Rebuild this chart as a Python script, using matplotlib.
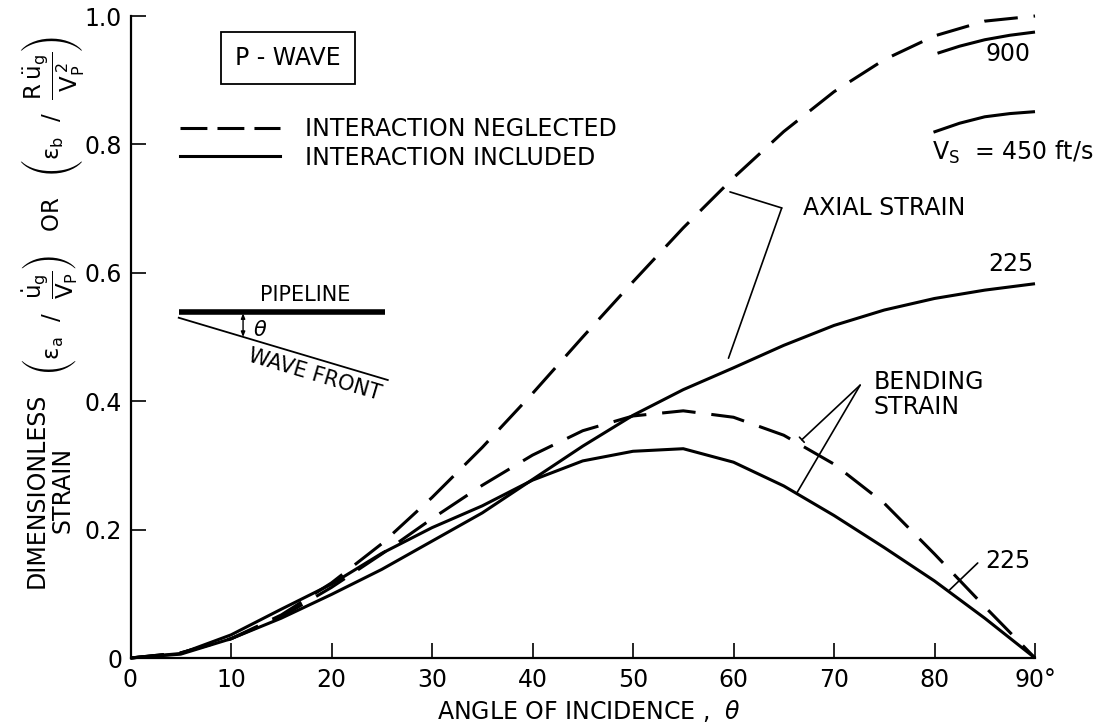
import matplotlib
matplotlib.use("Agg")
import matplotlib.pyplot as plt
from matplotlib.lines import Line2D

plt.rcParams['font.family'] = ['DejaVu Sans']
plt.rcParams['mathtext.default'] = 'regular'

# ---------------- data ----------------
theta = [0, 5, 10, 15, 20, 25, 30, 35, 40, 45, 50, 55, 60, 65, 70, 75, 80, 85, 90]
axial_neglected = [0, 0.008, 0.03, 0.067, 0.117, 0.178, 0.25, 0.328, 0.412, 0.5,
                   0.586, 0.67, 0.748, 0.82, 0.882, 0.932, 0.969, 0.992, 1.0]
bending_neglected = [0, 0.008, 0.03, 0.064, 0.11, 0.162, 0.217, 0.269, 0.316, 0.354,
                     0.377, 0.385, 0.375, 0.347, 0.302, 0.241, 0.162, 0.08, 0]
axial_included_225 = [0, 0.006, 0.03, 0.062, 0.099, 0.138, 0.182, 0.226, 0.278, 0.33,
                      0.378, 0.418, 0.452, 0.487, 0.518, 0.542, 0.56, 0.573, 0.583]
bending_included_225 = [0, 0.007, 0.036, 0.076, 0.115, 0.163, 0.203, 0.237, 0.277, 0.307,
                        0.322, 0.326, 0.305, 0.268, 0.222, 0.172, 0.12, 0.062, 0]
theta_900 = [80.3, 82.5, 85, 87.5, 90]
axial_included_900 = [0.942, 0.953, 0.963, 0.970, 0.975]
theta_450 = [79.9, 82.5, 85, 87.5, 90]
axial_included_450 = [0.819, 0.833, 0.843, 0.848, 0.851]

xticks = [0, 10, 20, 30, 40, 50, 60, 70, 80, 90]
xtick_labels = ['0', '10', '20', '30', '40', '50', '60', '70', '80', '90°']
yticks = [0, 0.2, 0.4, 0.6, 0.8, 1.0]
ytick_labels = ['0', '0.2', '0.4', '0.6', '0.8', '1.0']

# ---------------- figure ----------------
W, H = 1099, 728
fig = plt.figure(figsize=(W / 100, H / 100), dpi=100)
ax = fig.add_axes([130.5 / W, 70 / H, 904.5 / W, 642 / H])
ax.set_xlim(0, 90)
ax.set_ylim(0, 1.0)

FS = 17
LW = 2.2
DASH = (11, 5.2)

common = dict(color='black', lw=LW, clip_on=False, solid_capstyle='butt')
ax.plot(theta, axial_neglected, dashes=DASH, **common)
ax.plot(theta, bending_neglected, dashes=DASH, **common)
ax.plot(theta, axial_included_225, **common)
ax.plot(theta, bending_included_225, **common)
ax.plot(theta_900, axial_included_900, **common)
ax.plot(theta_450, axial_included_450, **common)

# axes styling
for s in ['top', 'right']:
    ax.spines[s].set_visible(False)
for s in ['left', 'bottom']:
    ax.spines[s].set_linewidth(1.6)
ax.set_xticks(xticks)
ax.set_xticklabels(xtick_labels)
ax.set_yticks(yticks)
ax.set_yticklabels(ytick_labels)
ax.tick_params(direction='in', length=11, width=1.2, labelsize=FS)
ax.tick_params(axis='x', pad=7)
ax.tick_params(axis='y', pad=6)

fig.text(589 / W, 1 - 711 / H, r'ANGLE OF INCIDENCE ,  $\it{\theta}$', fontsize=FS,
         ha='center', va='center')

# y label (two parts)
fig.text(50 / W, 1 - 490 / H, 'DIMENSIONLESS\nSTRAIN', rotation=90, fontsize=FS,
         ha='center', va='center', multialignment='center', linespacing=1.1)
fig.text(52 / W, 1 - 206 / H,
         r'$\left(\epsilon_a\ \ /\ \ \dfrac{\dot{u}_g}{V_P}\right)$   OR   '
         r'$\left(\epsilon_b\ \ /\ \ \dfrac{R\,\ddot{u}_g}{V_P^{\,2}}\right)$',
         rotation=90, fontsize=16.5, ha='center', va='center')

# P-WAVE box
ax.text(15.7, 0.935, 'P - WAVE', fontsize=FS, ha='center', va='center',
        bbox=dict(boxstyle='square,pad=0.6', fc='white', ec='black', lw=1.3))

# legend
handles = [Line2D([], [], color='black', lw=LW, dashes=(8.8, 3.3)),
           Line2D([], [], color='black', lw=LW)]
leg = ax.legend(handles, ['INTERACTION NEGLECTED', 'INTERACTION INCLUDED'],
                loc='upper left', bbox_to_anchor=(0.0547, 0.843), frameon=False,
                fontsize=FS, handlelength=4.24, handletextpad=1.06,
                labelspacing=0.2, borderpad=0, borderaxespad=0)

# curve labels
ax.text(89.6, 0.941, '900', fontsize=FS, ha='right', va='center')
ax.text(79.8, 0.787, r'$V_S$  = 450 ft/s', fontsize=FS, ha='left', va='center')
ax.text(66.9, 0.701, 'AXIAL STRAIN', fontsize=FS, ha='left', va='center')
ax.text(89.9, 0.614, '225', fontsize=FS, ha='right', va='center')
ax.text(73.9, 0.41, 'BENDING\nSTRAIN', fontsize=FS, ha='left', va='center', linespacing=1.05)
ax.text(85.0, 0.151, '225', fontsize=FS, ha='left', va='center')

# leaders
lp = dict(arrowstyle='-', color='black', lw=1.2, shrinkA=0, shrinkB=0)
ax.annotate('', xy=(59.65, 0.726), xytext=(64.8, 0.701), arrowprops=lp)
ax.annotate('', xy=(59.5, 0.467), xytext=(64.8, 0.701), arrowprops=lp)
ax.annotate('', xy=(66.8, 0.340), xytext=(72.6, 0.425),
            arrowprops=dict(arrowstyle='-[, widthB=0.25, lengthB=0', color='black', lw=1.2,
                            shrinkA=0, shrinkB=0))
ax.annotate('', xy=(66.3, 0.257), xytext=(72.6, 0.425), arrowprops=lp)
ax.annotate('', xy=(81.5, 0.106), xytext=(84.3, 0.148), arrowprops=lp)

# pipeline schematic
pipe_x = [4.8, 25.3]
pipe_y = [0.539, 0.539]
front_x = [4.8, 25.6]
front_y = [0.530, 0.433]
ax.plot(pipe_x, pipe_y, color='black', lw=4, solid_capstyle='butt')
ax.plot(front_x, front_y, color='black', lw=1.3)
ax.annotate('', xy=(11.2, 0.500), xytext=(11.2, 0.537),
            arrowprops=dict(arrowstyle='<|-|>,head_length=0.3,head_width=0.12',
                            color='black', lw=1.0, shrinkA=0, shrinkB=0))
ax.text(17.4, 0.565, 'PIPELINE', fontsize=FS - 2, ha='center', va='center')
ax.text(12.9, 0.511, r'$\it{\theta}$', fontsize=FS - 2, ha='center', va='center')
ax.text(18.3, 0.441, 'WAVE FRONT', fontsize=FS - 2, ha='center', va='center',
        rotation=-16.5, rotation_mode='anchor')

fig.savefig('out.png', dpi=100)
